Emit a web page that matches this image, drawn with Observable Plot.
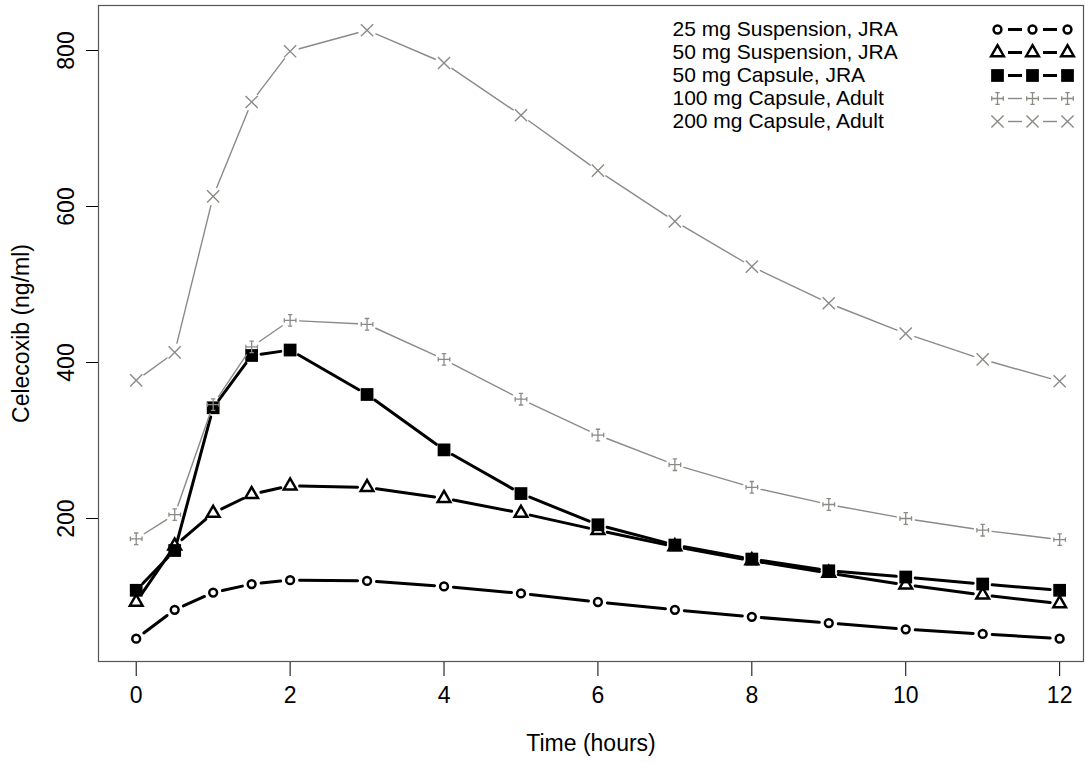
<!DOCTYPE html>
<html>
<head>
<meta charset="utf-8">
<script src="https://cdn.jsdelivr.net/npm/d3@7"></script>
<script src="https://cdn.jsdelivr.net/npm/@observablehq/plot@0.6"></script>
<style>
  html, body { margin: 0; padding: 0; background: #fff; }
</style>
</head>
<body>
<div id="chart"></div>
<script>
// ---- Data ----
const times = [0, 0.5, 1, 1.5, 2, 3, 4, 5, 6, 7, 8, 9, 10, 11, 12];
const conc25Susp   = [46, 83, 105, 116, 121, 120, 113, 104, 93, 83, 74, 66, 58, 52, 46];
const conc50Susp   = [93, 165, 207, 231, 242, 240, 226, 207, 185, 164, 146, 130, 115, 102, 91];
const conc50Cap    = [108, 159, 342, 409, 416, 359, 288, 232, 192, 166, 148, 133, 125, 116, 108];
const conc100Adult = [174, 205, 346, 420, 454, 449, 404, 353, 307, 269, 240, 218, 200, 185, 173];
const conc200Adult = [377, 413, 613, 734, 799, 826, 784, 717, 646, 581, 523, 476, 437, 404, 376];
const seriesNames = [
  "25 mg Suspension, JRA",
  "50 mg Suspension, JRA",
  "50 mg Capsule, JRA",
  "100 mg Capsule, Adult",
  "200 mg Capsule, Adult"
];
const xTicks = [0, 2, 4, 6, 8, 10, 12];
const yTicks = [200, 400, 600, 800];
const xLabel = "Time (hours)";
const yLabel = "Celecoxib (ng/ml)";

// ---- Styles ----
const seriesValues = [conc25Susp, conc50Susp, conc50Cap, conc100Adult, conc200Adult];
const GREY = "#8a8a86";
const serifCross = {
  draw(ctx, size) {
    const r = Math.sqrt(size / Math.PI);
    const s = r * 0.38;
    ctx.moveTo(-r, 0); ctx.lineTo(r, 0);
    ctx.moveTo(0, -r); ctx.lineTo(0, r);
    ctx.moveTo(-r, -s); ctx.lineTo(-r, s);
    ctx.moveTo(r, -s); ctx.lineTo(r, s);
    ctx.moveTo(-s, -r); ctx.lineTo(s, -r);
    ctx.moveTo(-s, r); ctx.lineTo(s, r);
  }
};
const dash = {
  draw(ctx, size) {
    const r = Math.sqrt(size / Math.PI);
    ctx.moveTo(-r, 0); ctx.lineTo(r, 0);
  }
};
const styles = [
  {symbol: "circle",   r: 3.9, fill: "none", stroke: "#000", strokeWidth: 2.5, line: "#000", lineWidth: 3},
  {symbol: "triangle", r: 4.7, fill: "none", stroke: "#000", strokeWidth: 2.5, line: "#000", lineWidth: 3},
  {symbol: "square",   r: 7.2, fill: "#000", stroke: "none", strokeWidth: 0,   line: "#000", lineWidth: 3},
  {symbol: serifCross, r: 5.8, fill: "none", stroke: GREY,   strokeWidth: 1.3, line: GREY,   lineWidth: 1.4},
  {symbol: "times",    r: 5.6, fill: "none", stroke: GREY,   strokeWidth: 1.4, line: GREY,   lineWidth: 1.4}
];

const FS = 23;
const LEGEND_FS = 21;
const marks = [];

// axes ticks and labels
marks.push(Plot.axisX({ticks: xTicks, tickSize: 15, tickFormat: () => "", label: null}));
marks.push(Plot.axisY({ticks: yTicks, tickSize: 12, tickFormat: () => "", label: null}));
marks.push(Plot.text(xTicks, {x: d => d, frameAnchor: "bottom", dy: 41, text: d => String(d), textAnchor: "middle", fontSize: FS}));
marks.push(Plot.text(yTicks, {y: d => d, frameAnchor: "left", dx: -32, rotate: -90, text: d => String(d), textAnchor: "middle", fontSize: FS}));
marks.push(Plot.text([xLabel], {frameAnchor: "bottom", dy: 89, text: d => d, textAnchor: "middle", fontSize: FS}));
marks.push(Plot.text([yLabel], {frameAnchor: "left", dx: -77, rotate: -90, text: d => d, textAnchor: "middle", fontSize: FS}));
marks.push(Plot.frame({stroke: "#555", strokeWidth: 1.2}));

// series: type "b" lines (gaps around points) + markers
seriesValues.forEach((vals, k) => {
  const st = styles[k];
  const pts = times.map((t, i) => ({t, v: vals[i]}));
  const segs = pts.slice(1).map((p, i) => ({x1: pts[i].t, y1: pts[i].v, x2: p.t, y2: p.v}));
  marks.push(Plot.arrow(segs, {
    x1: "x1", y1: "y1", x2: "x2", y2: "y2",
    headLength: 0, insetStart: 9.5, insetEnd: 9.5,
    stroke: st.line, strokeWidth: st.lineWidth
  }));
  marks.push(Plot.dot(pts, {
    x: "t", y: "v", symbol: st.symbol, r: st.r,
    fill: st.fill, stroke: st.stroke, strokeWidth: st.strokeWidth
  }));
});

// legend (top right)
seriesNames.forEach((name, k) => {
  const st = styles[k];
  const dy = 24 + k * 23;
  marks.push(Plot.text([name], {frameAnchor: "top-right", dx: -411, dy, text: d => d, textAnchor: "start", lineAnchor: "middle", fontSize: LEGEND_FS}));
  [-68.5, -33.5].forEach(dx => marks.push(Plot.dot([0], {
    frameAnchor: "top-right", dx, dy, symbol: dash, r: 7,
    fill: "none", stroke: st.line, strokeWidth: st.lineWidth
  })));
  [-86, -51, -16].forEach(dx => marks.push(Plot.dot([0], {
    frameAnchor: "top-right", dx, dy, symbol: st.symbol, r: st.r,
    fill: st.fill, stroke: st.stroke, strokeWidth: st.strokeWidth
  })));
});

const chart = Plot.plot({
  width: 1085,
  height: 763,
  marginLeft: 98,
  marginRight: 2,
  marginTop: 5,
  marginBottom: 102,
  x: {domain: [-0.49, 12.31]},
  y: {domain: [16.7, 857.7]},
  style: {fontFamily: "'Liberation Sans', Arial, Helvetica, sans-serif", fontSize: FS + "px", background: "#fff", color: "#000"},
  marks
});
document.getElementById("chart").appendChild(chart);
</script>
</body>
</html>
